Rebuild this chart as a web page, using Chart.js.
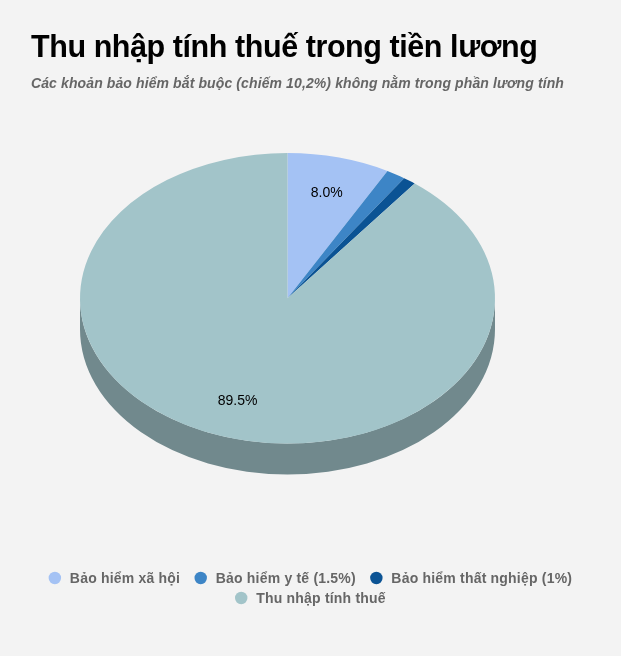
<!DOCTYPE html>
<html><head><meta charset="utf-8">
<style>html,body{margin:0;padding:0;background:#f3f3f3}canvas{display:block}</style>
<script src="https://cdn.jsdelivr.net/npm/chart.js@4"></script></head>
<body><div style="width:621px;height:656px"><canvas id="c"></canvas></div>
<script>
const categories = ["Bảo hiểm xã hội","Bảo hiểm y tế (1.5%)","Bảo hiểm thất nghiệp (1%)","Thu nhập tính thuế"];
const values = [8.0,1.5,1.0,89.5];
const sliceLabels = ["8.0%","","","89.5%"];
const colors = ["#a4c2f4","#3d85c6","#0b5394","#a2c4c9"];
const sideColors = ["#7288ab","#2b5d8b","#083a68","#71898d"];
const titleText = "Thu nhập tính thuế trong tiền lương";
const subtitleText = "Các khoản bảo hiểm bắt buộc (chiếm 10,2%) không nằm trong phần lương tính";
const CX=287.5, CY=298.3, RX=207.5, RY=145.3, DEPTH=31;
const tilt = {
  id:'tilt',
  beforeDraw(chart){
    chart.boxes.forEach(b=>{
      if(b.$ls!==undefined||!b.options||!b.options.text)return;
      const ls=b.options.text===titleText?'-0.43px':'0.11px';
      b.$ls=ls;const d=b.draw;
      b.draw=function(...args){chart.ctx.letterSpacing=ls;d.apply(b,args);chart.ctx.letterSpacing='0px';};
    });
  },
  beforeDatasetsDraw(chart){
    const ctx=chart.ctx, arcs=chart.getDatasetMeta(0).data, k=RY/RX;
    ctx.save();
    arcs.forEach((a,i)=>{
      const s=Math.max(a.startAngle,0), e=Math.min(a.endAngle,Math.PI);
      if(e>s){
        ctx.beginPath();
        ctx.ellipse(CX,CY,a.outerRadius,a.outerRadius*k,0,s,e);
        ctx.ellipse(CX,CY+DEPTH,a.outerRadius,a.outerRadius*k,0,e,s,true);
        ctx.closePath();
        ctx.fillStyle=sideColors[i];ctx.fill();
      }
    });
    ctx.restore();
    ctx.save();
    ctx.translate(CX,CY);ctx.scale(1,k);ctx.translate(-arcs[0].x,-arcs[0].y);
  },
  afterDatasetsDraw(chart){
    const ctx=chart.ctx, arcs=chart.getDatasetMeta(0).data, k=RY/RX;
    ctx.restore();
    ctx.save();
    ctx.font='14px "Liberation Sans"';ctx.fillStyle='#000';ctx.textAlign='center';ctx.textBaseline='middle';
    arcs.forEach((a,i)=>{
      if(!sliceLabels[i])return;
      const m=(a.startAngle+a.endAngle)/2, r=a.outerRadius*0.75;
      ctx.fillText(sliceLabels[i],CX+Math.cos(m)*r+0.5,CY+Math.sin(m)*r*k);
    });
    ctx.restore();
    // legend: two centred rows
    ctx.save();
    ctx.font='bold 14px "Liberation Sans"';ctx.letterSpacing='0.2px';ctx.textBaseline='middle';ctx.textAlign='left';
    const rows=[[0,1,2],[3]], rowY=[578,598], centre=310.5;
    rows.forEach((row,ri)=>{
      const w=row.map(i=>21+ctx.measureText(categories[i]).width);
      let x=centre-(w.reduce((p,c)=>p+c,0)+14.5*(row.length-1))/2;
      row.forEach((i,j)=>{
        ctx.beginPath();ctx.arc(x+6,rowY[ri],6.2,0,Math.PI*2);ctx.fillStyle=colors[i];ctx.fill();
        ctx.fillStyle='#666';ctx.fillText(categories[i],x+21,rowY[ri]+1);
        x+=w[j]+14.5;
      });
    });
    ctx.restore();
  }
};
new Chart(document.getElementById('c'),{
  type:'pie',
  data:{labels:categories,datasets:[{data:values,backgroundColor:colors,borderWidth:0,radius:RX,hoverOffset:0}]},
  plugins:[tilt],
  options:{
    responsive:true,maintainAspectRatio:false,animation:false,
    layout:{padding:{left:31,right:31,top:30,bottom:46}},
    plugins:{
      tooltip:{enabled:false},
      legend:{display:false},
      title:{display:true,text:titleText,align:'start',color:'#000',font:{family:'"Liberation Sans"',size:30.5,weight:'bold'},padding:{top:0,bottom:9}},
      subtitle:{display:true,text:subtitleText,align:'start',color:'#666',font:{family:'"Liberation Sans"',size:14,weight:'bold',style:'italic'},padding:{top:0,bottom:10}}
    }
  }
});
</script></body></html>
